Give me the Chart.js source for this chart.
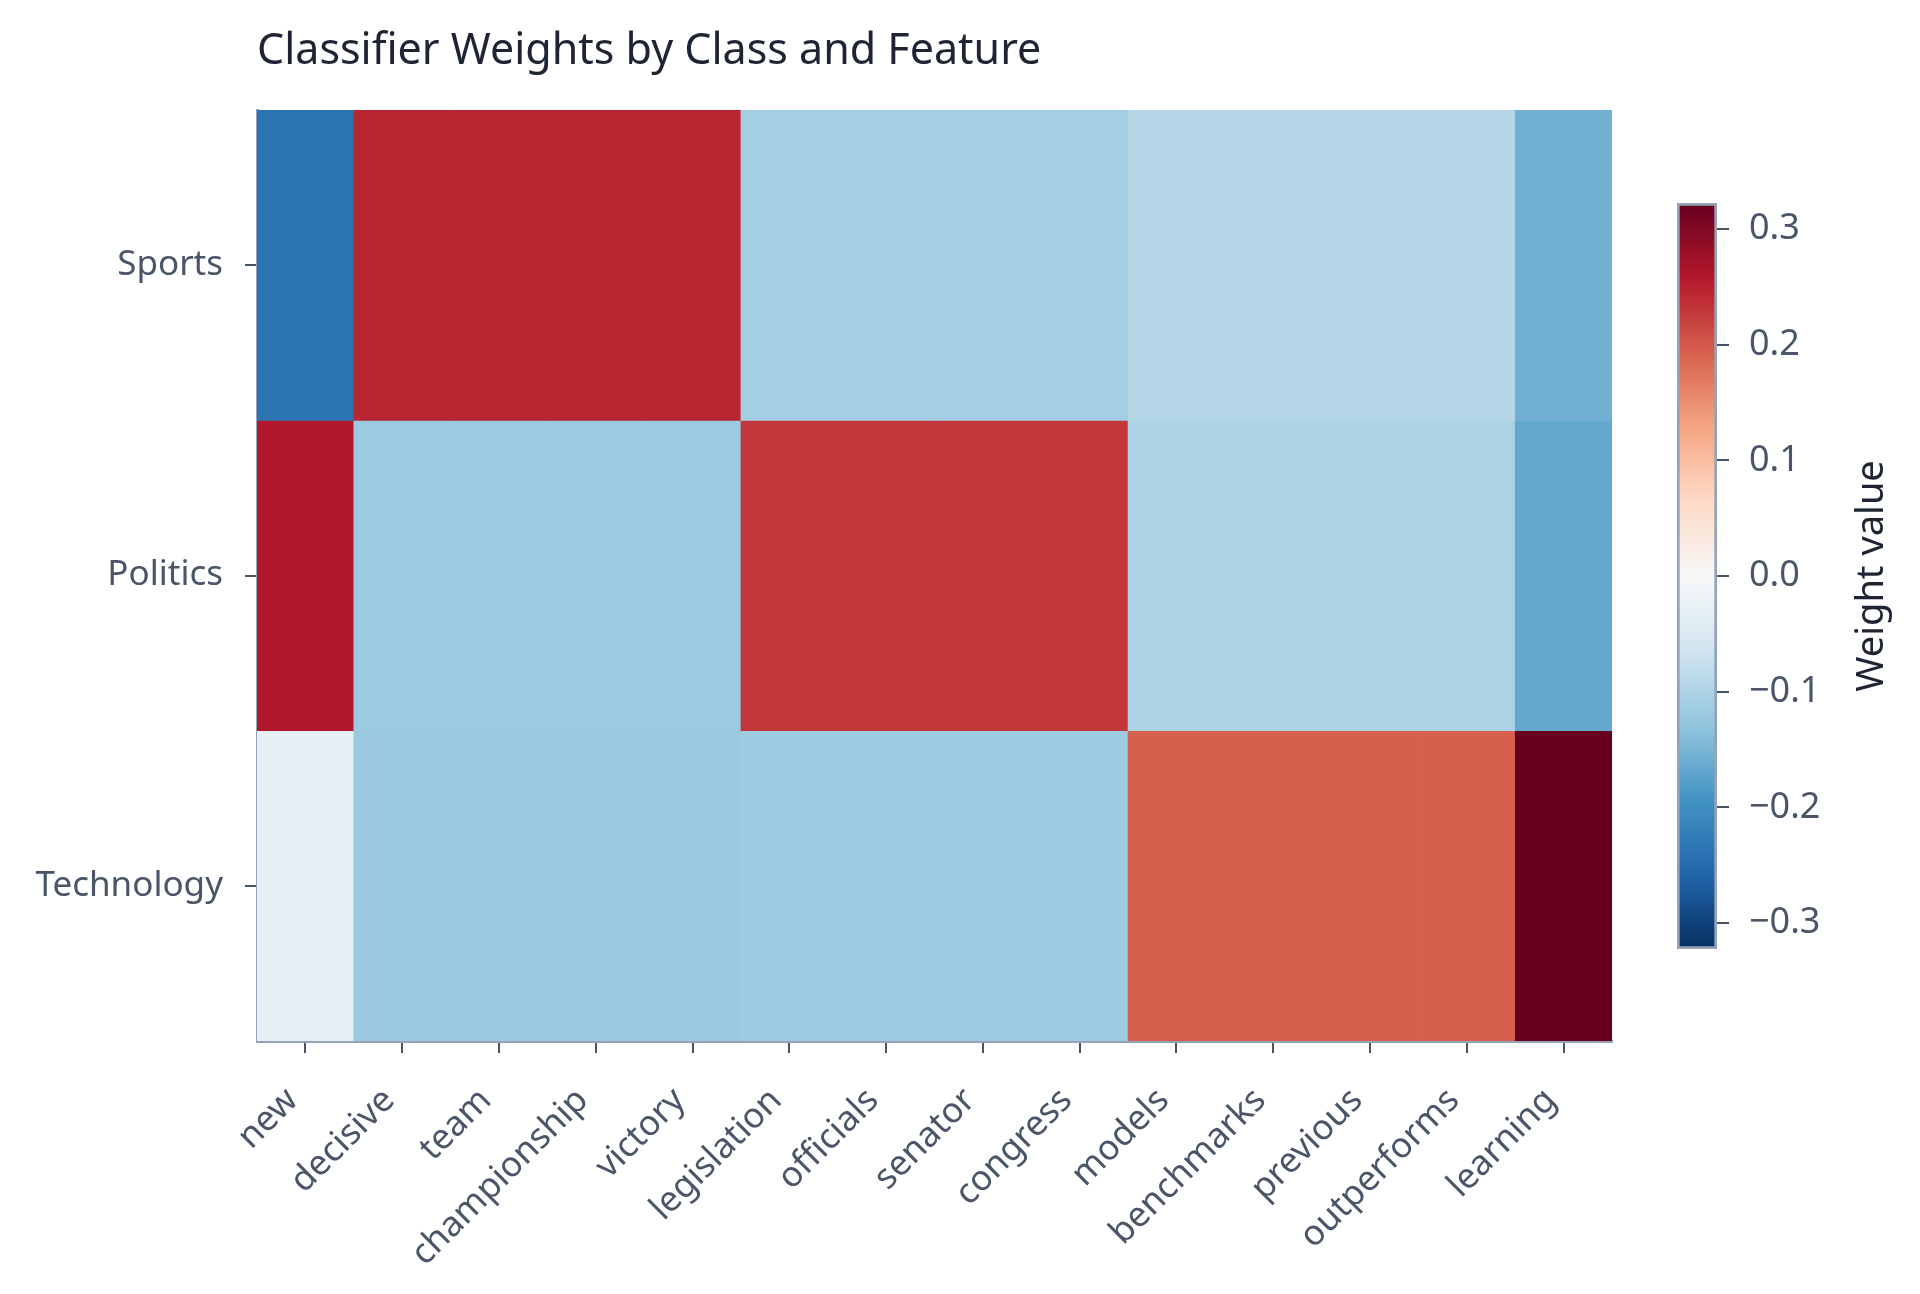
<!DOCTYPE html>
<html>
<head>
<meta charset="utf-8">
<title>Classifier Weights by Class and Feature</title>
<script src="https://cdn.jsdelivr.net/npm/chart.js@4.4.1/dist/chart.umd.min.js"></script>
<style>
  html, body { margin: 0; padding: 0; background: #ffffff; }
  #wrap { position: relative; width: 1920px; height: 1294px; }
  #heatmap { position: absolute; left: 0; top: 0; }
  #colorbar { position: absolute; left: 1600px; top: 0; }
</style>
</head>
<body>
<div id="wrap">
  <canvas id="heatmap" width="1920" height="1294"></canvas>
  <canvas id="colorbar" width="320" height="1294"></canvas>
</div>
<script>
const features = ['new', 'decisive', 'team', 'championship', 'victory', 'legislation', 'officials',
  'senator', 'congress', 'models', 'benchmarks', 'previous', 'outperforms', 'learning'];
const classes = ['Sports', 'Politics', 'Technology'];

// weights, one array per class
const sportsWeights = [-0.237, 0.246, 0.246, 0.246, 0.246, -0.111, -0.111, -0.111, -0.111,
  -0.093, -0.093, -0.093, -0.093, -0.157];
const politicsWeights = [0.258, -0.119, -0.119, -0.119, -0.119, 0.229, 0.229, 0.229, 0.229,
  -0.103, -0.103, -0.103, -0.103, -0.168];
const technologyWeights = [-0.029, -0.121, -0.121, -0.121, -0.121, -0.117, -0.117, -0.117, -0.117,
  0.194, 0.194, 0.194, 0.194, 0.3225];

const colorbarTicks = [-0.3, -0.2, -0.1, 0, 0.1, 0.2, 0.3];
const weightLimit = 0.3225;

// RdBu_r
const rdbuStops = ['#053061', '#2166ac', '#4393c3', '#92c5de', '#d1e5f0', '#f7f7f7',
  '#fddbc7', '#f4a582', '#d6604d', '#b2182b', '#67001f'];

const tickFont = { family: 'Noto Sans', size: 35 };
const tickColor = '#4a5568';
const spineColor = '#94a3b8';
const markColor = '#475569';

function hexToRgb(h) {
  return [1, 3, 5].map(i => parseInt(h.slice(i, i + 2), 16));
}

function colorFor(v) {
  let t = (v + weightLimit) / (2 * weightLimit);
  t = Math.min(1, Math.max(0, t)) * (rdbuStops.length - 1);
  const i = Math.min(Math.floor(t), rdbuStops.length - 2);
  const f = t - i;
  const a = hexToRgb(rdbuStops[i]);
  const b = hexToRgb(rdbuStops[i + 1]);
  const c = a.map((x, k) => Math.round(x + (b[k] - x) * f));
  return `rgb(${c[0]}, ${c[1]}, ${c[2]})`;
}

const rows = [sportsWeights, politicsWeights, technologyWeights];

const titlePlugin = {
  id: 'leftTitle',
  afterDraw(chart) {
    const c = chart.ctx;
    c.save();
    c.font = '43px "Noto Sans"';
    c.fillStyle = '#1e2433';
    c.textBaseline = 'middle';
    c.textAlign = 'left';
    c.fillText('Classifier Weights by Class and Feature', chart.chartArea.left, 52);
    c.restore();
  }
};

new Chart(document.getElementById('heatmap'), {
  type: 'bar',
  data: {
    labels: features,
    datasets: rows.map((weights, r) => ({
      label: classes[r],
      data: weights.map(() => [r, r + 1]),
      backgroundColor: weights.map(colorFor),
      grouped: false,
      barPercentage: 1,
      categoryPercentage: 1,
      borderWidth: 0,
      borderSkipped: false
    }))
  },
  options: {
    responsive: false,
    animation: false,
    devicePixelRatio: 1,
    layout: { padding: { top: 110, right: 308, left: 0, bottom: 0 } },
    plugins: {
      legend: { display: false },
      tooltip: { enabled: false }
    },
    scales: {
      x: {
        offset: true,
        grid: { offset: false, drawOnChartArea: false, tickLength: 12, color: markColor, lineWidth: 2 },
        border: { color: spineColor, width: 3 },
        ticks: {
          minRotation: 45, maxRotation: 45, font: tickFont, color: tickColor,
          padding: 27, labelOffset: -13, autoSkip: false
        },
        afterFit(scale) { scale.height = 253; }
      },
      y: {
        type: 'linear',
        min: 0,
        max: 3,
        reverse: true,
        afterBuildTicks(scale) { scale.ticks = [0.5, 1.5, 2.5].map(v => ({ value: v })); },
        grid: { drawOnChartArea: false, tickLength: 12, color: markColor, lineWidth: 2 },
        border: { color: spineColor, width: 3 },
        ticks: {
          font: tickFont,
          color: tickColor,
          padding: 22,
          callback: v => classes[Math.floor(v)]
        },
        afterFit(scale) { scale.width = 257; }
      }
    }
  },
  plugins: [titlePlugin]
});

const colorbarLabel = {
  id: 'colorbarLabel',
  afterDraw(chart) {
    const c = chart.ctx;
    const a = chart.chartArea;
    c.save();
    c.translate(272, (a.top + a.bottom) / 2);
    c.rotate(-Math.PI / 2);
    c.font = '38px "Noto Sans"';
    c.fillStyle = '#1e2433';
    c.textAlign = 'center';
    c.textBaseline = 'middle';
    c.fillText('Weight value', 0, 0);
    c.restore();
  }
};

new Chart(document.getElementById('colorbar'), {
  type: 'bar',
  data: {
    labels: ['Weight value'],
    datasets: [{
      data: [[-weightLimit, weightLimit]],
      backgroundColor(ctx) {
        const chart = ctx.chart;
        if (!chart.chartArea) return null;
        const ys = chart.scales.y;
        const g = chart.ctx.createLinearGradient(0, ys.getPixelForValue(-weightLimit), 0, ys.getPixelForValue(weightLimit));
        rdbuStops.forEach((col, i) => g.addColorStop(i / (rdbuStops.length - 1), col));
        return g;
      },
      borderColor: spineColor,
      borderWidth: 3,
      borderSkipped: false,
      barPercentage: 1,
      categoryPercentage: 1
    }]
  },
  options: {
    responsive: false,
    animation: false,
    devicePixelRatio: 1,
    layout: { padding: { top: 203, bottom: 345, left: 77, right: 0 } },
    plugins: {
      legend: { display: false },
      tooltip: { enabled: false }
    },
    scales: {
      x: { display: false },
      y: {
        position: 'right',
        min: -weightLimit,
        max: weightLimit,
        afterBuildTicks(scale) { scale.ticks = colorbarTicks.map(v => ({ value: v })); },
        grid: { drawOnChartArea: false, tickLength: 12, color: markColor, lineWidth: 2 },
        border: { display: false },
        ticks: {
          font: { family: 'Noto Sans', size: 36 },
          color: tickColor,
          padding: 20,
          callback: v => (v < -1e-9 ? '\u2212' : '') + Math.abs(v).toFixed(1)
        },
        afterFit(scale) { scale.width = 203; }
      }
    }
  },
  plugins: [colorbarLabel]
});
</script>
</body>
</html>
